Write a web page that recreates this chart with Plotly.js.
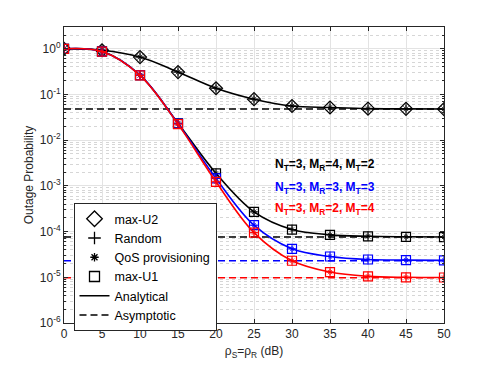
<!DOCTYPE html>
<html>
<head>
<meta charset="utf-8">
<script src="https://cdn.plot.ly/plotly-3.0.1.min.js"></script>
<style>
  html, body { margin: 0; padding: 0; background: #fff; }
  #chart { width: 491px; height: 365px; }
</style>
</head>
<body>
<div id="chart"></div>
<script>
// SNR grid (dB)
const snr = [0, 5, 10, 15, 20, 25, 30, 35, 40, 45, 50];

// max-U2 curve (same for all antenna configs)
const maxU2 = [1.0, 0.93, 0.66, 0.31, 0.137, 0.079, 0.056, 0.052, 0.049, 0.0485, 0.048];
const asymU2 = 0.048;

// max-U1 curves, one per antenna config
const maxU1Black = [1.0, 0.88, 0.265, 0.0235, 1.88e-3, 2.7e-4, 1.11e-4, 8.5e-5, 7.9e-5, 7.7e-5, 7.6e-5];
const maxU1Blue = [1.0, 0.87, 0.265, 0.023, 1.46e-3, 1.38e-4, 4.2e-5, 2.85e-5, 2.45e-5, 2.38e-5, 2.35e-5];
const maxU1Red = [1.0, 0.87, 0.262, 0.0225, 1.23e-3, 9.5e-5, 2.3e-5, 1.3e-5, 1.05e-5, 1.0e-5, 9.9e-6];
const asymBlack = 7.6e-5;
const asymBlue = 2.3e-5;
const asymRed = 9.8e-6;

const configLabels = [
  'N<sub>T</sub>=3, M<sub>R</sub>=4, M<sub>T</sub>=2',
  'N<sub>T</sub>=3, M<sub>R</sub>=3, M<sub>T</sub>=3',
  'N<sub>T</sub>=3, M<sub>R</sub>=2, M<sub>T</sub>=4'
];
const configColors = ['#000000', '#0000ff', '#ff0000'];

const yTickVals = [1e-6, 1e-5, 1e-4, 1e-3, 1e-2, 1e-1, 1];
const yTickText = ['10<sup>-6</sup>', '10<sup>-5</sup>', '10<sup>-4</sup>', '10<sup>-3</sup>',
  '10<sup>-2</sup>', '10<sup>-1</sup>', '10<sup>0</sup>'];

const dashStyle = '7px,4px';

// analytical line + overlapping markers (square/diamond, +, *)
function curveTraces (y, color, symbol, size) {
  return [
    { x: snr, y: y, mode: 'lines', line: { color: color, width: 1.6, shape: 'spline', smoothing: 1 }, showlegend: false, hoverinfo: 'skip' },
    { x: snr, y: y, mode: 'markers', marker: { symbol: symbol, size: size, color: color, line: { color: color, width: 1.2 } }, showlegend: false },
    { x: snr, y: y, mode: 'markers', marker: { symbol: 'cross-thin-open', size: size - 2, color: color, line: { color: color, width: 1 } }, showlegend: false },
    { x: snr, y: y, mode: 'markers', marker: { symbol: 'asterisk-open', size: size - 4, color: color, line: { color: color, width: 0.8 } }, showlegend: false }
  ];
}

function asymTrace (val, color) {
  return {
    x: [snr[0], snr[snr.length - 1]], y: [val, val], mode: 'lines',
    line: { color: color, width: 1.5, dash: dashStyle }, showlegend: false, hoverinfo: 'skip'
  };
}

// legend-only entries
function legendEntry (name, opts) {
  return Object.assign({ x: [null], y: [null], name: name, showlegend: true }, opts);
}

const data = [
  asymTrace(asymU2, '#000000'),
  asymTrace(asymBlack, configColors[0]),
  asymTrace(asymBlue, configColors[1]),
  asymTrace(asymRed, configColors[2]),
  ...curveTraces(maxU2, '#000000', 'diamond-open', 10),
  ...curveTraces(maxU1Black, configColors[0], 'square-open', 9),
  ...curveTraces(maxU1Blue, configColors[1], 'square-open', 9),
  ...curveTraces(maxU1Red, configColors[2], 'square-open', 9),
  legendEntry('max-U2', { mode: 'markers', marker: { symbol: 'diamond-open', size: 12, color: '#000', line: { width: 1.3 } } }),
  legendEntry('Random', { mode: 'markers', marker: { symbol: 'cross-thin-open', size: 9, color: '#000', line: { width: 1.3 } } }),
  legendEntry('QoS provisioning', { mode: 'markers', marker: { symbol: 'asterisk-open', size: 7, color: '#000', line: { width: 1.3 } } }),
  legendEntry('max-U1', { mode: 'markers', marker: { symbol: 'square-open', size: 10, color: '#000', line: { width: 1.3 } } }),
  legendEntry('Analytical', { mode: 'lines', line: { color: '#000', width: 1.5 } }),
  legendEntry('Asymptotic', { mode: 'lines', line: { color: '#000', width: 1.5, dash: dashStyle } })
];

const axisFont = { family: 'Liberation Sans, Arial, sans-serif', size: 12, color: '#262626' };

const layout = {
  width: 491,
  height: 365,
  margin: { l: 63.5, r: 47, t: 27, b: 42 },
  paper_bgcolor: '#fff',
  plot_bgcolor: '#fff',
  font: axisFont,
  showlegend: true,
  legend: {
    x: 0.025, y: 0.405, xanchor: 'left', yanchor: 'top',
    bgcolor: '#fff', bordercolor: '#262626', borderwidth: 1,
    font: { family: 'Liberation Sans, Arial, sans-serif', size: 12.5, color: '#000' },
    tracegroupgap: 0
  },
  xaxis: {
    range: [0, 50],
    tickvals: snr,
    ticks: 'inside', ticklen: 4, tickcolor: '#262626',
    showline: true, linecolor: '#262626', linewidth: 1, mirror: 'ticks',
    showgrid: true, gridcolor: '#e3e3e3', gridwidth: 1,
    zeroline: false,
    tickfont: axisFont,
    title: { text: '\u03c1<sub>S</sub>=\u03c1<sub>R</sub> (dB)', font: axisFont, standoff: 6 }
  },
  yaxis: {
    type: 'log',
    range: [-6, Math.log10(3)],
    tickmode: 'array', tickvals: yTickVals, ticktext: yTickText,
    ticks: 'inside', ticklen: 4, tickcolor: '#262626',
    showline: true, linecolor: '#262626', linewidth: 1, mirror: 'ticks',
    showgrid: true, gridcolor: '#e3e3e3', gridwidth: 1,
    zeroline: false,
    tickfont: axisFont,
    minor: { dtick: 'D1', showgrid: true, gridcolor: '#d6d6d6', griddash: 'dot', ticks: 'inside', ticklen: 2, tickcolor: '#262626' },
    title: { text: 'Outage Probability', font: axisFont, standoff: 3 }
  },
  annotations: configLabels.map((t, i) => ({
    xref: 'x', yref: 'paper', x: 27.5, y: [0.535, 0.455, 0.385][i],
    xanchor: 'left', yanchor: 'middle', showarrow: false, text: t,
    font: { family: 'Liberation Sans, Arial, sans-serif', size: 12, color: configColors[i], weight: 'bold' }
  }))
};

Plotly.newPlot('chart', data, layout, { displayModeBar: false, staticPlot: true });
</script>
</body>
</html>
